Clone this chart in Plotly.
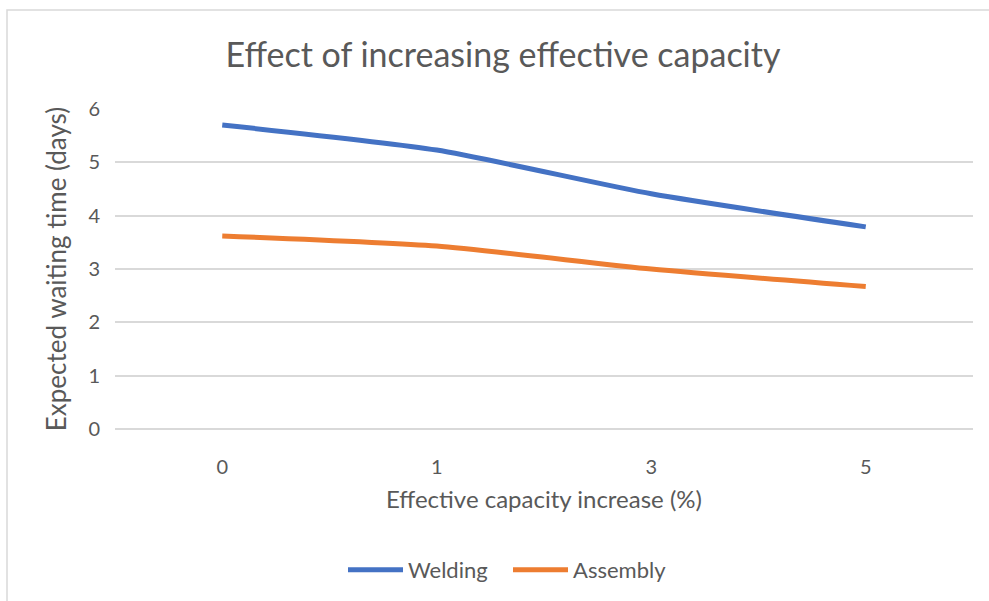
import plotly.graph_objects as go

# Effective capacity increase (%) shown as categories
capacity_increase = ["0", "1", "3", "5"]
welding_wait = [5.70, 5.23, 4.41, 3.79]
assembly_wait = [3.62, 3.43, 3.00, 2.67]
y_ticks = [0, 1, 2, 3, 4, 5, 6]

FONT = "Lato"
TEXT = "#595959"
GRID = "#D9D9D9"

fig = go.Figure()
fig.add_trace(go.Scatter(
    x=capacity_increase, y=welding_wait, name="Welding", mode="lines",
    line=dict(color="#4472C4", width=5, shape="spline", smoothing=0.6),
))
fig.add_trace(go.Scatter(
    x=capacity_increase, y=assembly_wait, name="Assembly", mode="lines",
    line=dict(color="#ED7D31", width=5, shape="spline", smoothing=0.6),
))

W, H = 989, 601
L, R, T, B = 115, 16, 109, 172
pw, ph = W - L - R, H - T - B


def px_x(p):
    return (p - L) / pw


def px_y(p):
    return (H - B - p) / ph


fig.update_layout(
    width=W, height=H,
    margin=dict(l=L, r=R, t=T, b=B, autoexpand=False),
    paper_bgcolor="white", plot_bgcolor="white",
    font=dict(family=FONT, color=TEXT, size=20),
    title=dict(text="Effect of increasing effective capacity",
               font=dict(size=34, color=TEXT, family=FONT),
               x=px_x(503), xanchor="center", xref="paper",
               y=1 - 55 / H, yanchor="middle"),
    showlegend=True,
    legend=dict(orientation="h", x=px_x(508), xanchor="center",
                y=px_y(570), yanchor="middle",
                font=dict(size=22, color=TEXT), itemwidth=55,
                entrywidth=95, tracegroupgap=0),
    xaxis=dict(
        type="category", range=[-0.5, 3.5], showgrid=False, zeroline=False,
        showline=False, ticks="", ticklabelstandoff=24,
        tickfont=dict(size=20, color=TEXT),
        title=dict(text="Effective capacity increase (%)",
                   font=dict(size=24, color=TEXT), standoff=14),
    ),
    yaxis=dict(
        range=[0, 6], tickvals=y_ticks, showgrid=True, gridcolor=GRID,
        gridwidth=1.5, zeroline=True, zerolinecolor=GRID, zerolinewidth=1.5,
        showline=False, ticks="", ticklabelstandoff=14,
        tickfont=dict(size=20, color=TEXT),
        title=dict(text="Expected waiting time (days)",
                   font=dict(size=26, color=TEXT), standoff=14),
    ),
    shapes=[
        dict(type="rect", xref="paper", yref="paper",
             x0=px_x(7), x1=px_x(W + 20), y0=px_y(10), y1=px_y(H + 20),
             line=dict(color="#D9D9D9", width=1.5), fillcolor="rgba(0,0,0,0)",
             layer="below"),
    ],
)

fig.write_html("out.html")
